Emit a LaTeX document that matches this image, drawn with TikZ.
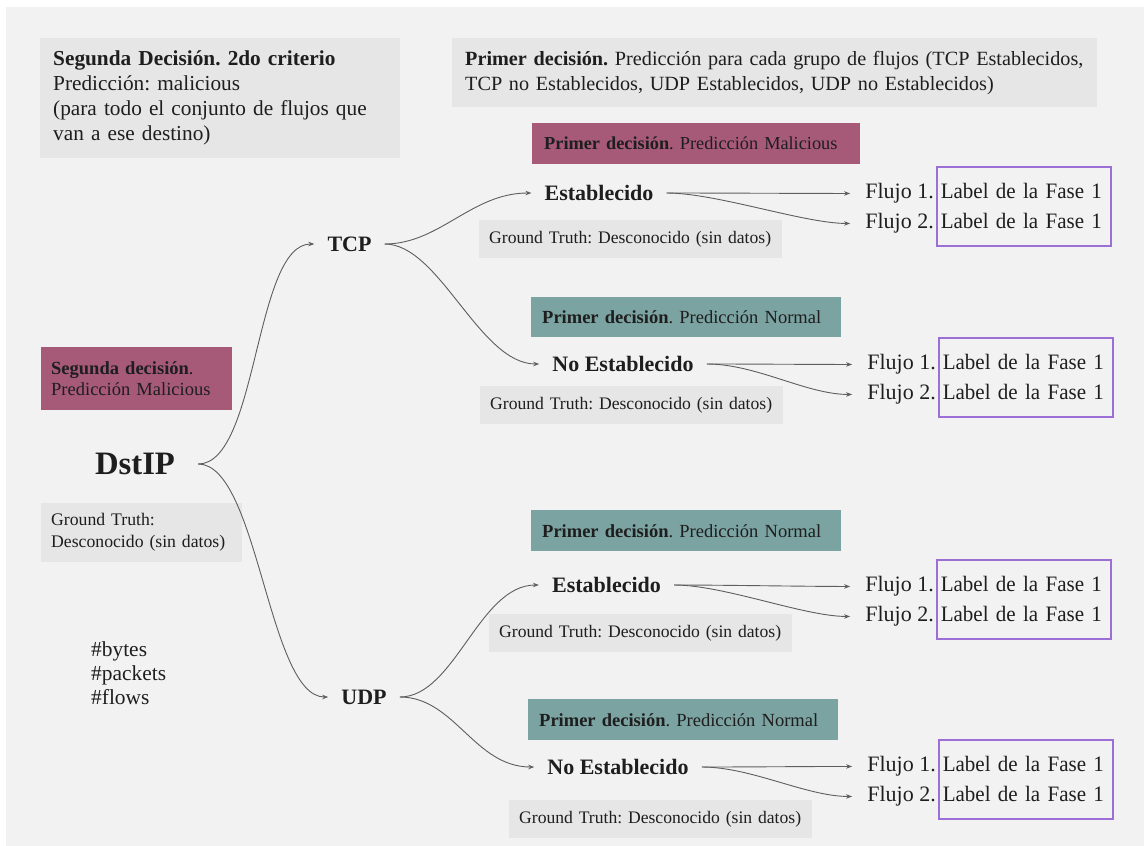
\documentclass[tikz,border=0pt]{standalone}
\usepackage{fontspec}
\setmainfont{Liberation Serif}
\newfontfamily\narrowserif{Liberation Serif}[FakeStretch=0.955]
\usetikzlibrary{arrows.meta,calc}

\definecolor{panel}{HTML}{F2F2F2}
\definecolor{note}{HTML}{E6E6E6}
\definecolor{malic}{HTML}{A65A78}
\definecolor{normal}{HTML}{7BA3A2}
\definecolor{labelframe}{HTML}{9B6FD6}
\definecolor{ink}{HTML}{1E1E1E}
\definecolor{wire}{HTML}{5E5E5E}

\newcommand{\fs}[2]{\fontsize{#1}{#2}\selectfont}
% keep a line of a note on one line
\newcommand{\oneline}[1]{\mbox{#1}}
\frenchspacing

\begin{document}
\begin{tikzpicture}[x=1pt,y=-1pt,
  every node/.style={text=ink},
  box/.style={anchor=north west, align=left, draw=none, inner ysep=0pt},
  greybox/.style={box, fill=note},
  malbox/.style={box, fill=malic},
  normbox/.style={box, fill=normal, minimum height=41, text width=288, inner xsep=11, font=\fs{18.5}{21.5}},
  truthbox/.style={greybox, minimum height=38, text width=283, inner xsep=10, font=\fs{17.6}{21}},
  framebox/.style={anchor=north west, align=left, draw=labelframe, line width=1.5pt,
    minimum height=79, text width=166, inner xsep=4, inner ysep=0pt, font=\narrowserif\fs{22}{30}},
  treenode/.style={font=\fs{22}{26}\bfseries, inner xsep=13, inner ysep=2},
  flow/.style={anchor=base east, inner sep=1, font=\fs{22}{26}},
  wire/.style={draw=wire, line width=0.9pt, -{Stealth[length=6pt,width=4.5pt]}},
  flowwire/.style={wire, shorten >=14pt}
]
% canvas and panel
\fill[white] (0,0) rectangle (1144,846);
\useasboundingbox (0,0) rectangle (1144,846);
\fill[panel] (6,7) rectangle (1144,846);

% notes at the top
\node[greybox, minimum height=120, text width=334, inner xsep=13, font=\fs{21.3}{25}] (crit2) at (40,38)
  {\oneline{\textbf{Segunda Decisión. 2do criterio}}\\\oneline{Predicción: malicious}\\\oneline{(para todo el conjunto de flujos que}\\\oneline{van a ese destino)}};
\node[greybox, minimum height=69, text width=619, inner xsep=13, font=\fs{20.2}{25}] (crit1) at (452,38)
  {\oneline{\textbf{Primer decisión.} Predicción para cada grupo de flujos (TCP Establecidos,}\\\oneline{TCP no Establecidos, UDP Establecidos, UDP no Establecidos)}};

% destination side
\node[malbox, minimum height=63, text width=171, inner xsep=10, font=\fs{18.5}{21.5}] (dstpred) at (41,347)
  {\oneline{\textbf{Segunda decisión}.}\\\oneline{Predicción Malicious}};
\node[greybox, minimum height=59, text width=181, inner xsep=10, font=\fs{17.7}{22}] (dsttruth) at (41,503)
  {\oneline{Ground Truth:}\\\oneline{Desconocido (sin datos)}};
\node[font=\fs{32.7}{36}\bfseries, inner xsep=23, inner ysep=2] (dst) at (135,464) {DstIP};
\node[anchor=west, align=left, inner sep=0, font=\fs{21.4}{24}] (counters) at (91,673)
  {\#bytes\\\#packets\\\#flows};

% protocol nodes
\node[treenode] (tcp) at (349.5,244) {TCP};
\node[treenode] (udp) at (364,697) {UDP};

% TCP established
\node[malbox, minimum height=41, text width=304, inner xsep=12, font=\fs{18.3}{21.5}] (tcpEpred) at (532,123)
  {\oneline{\textbf{Primer decisión}. Predicción Malicious}};
\node[truthbox] (tcpEtruth) at (479,220) {\oneline{Ground Truth: Desconocido (sin datos)}};
\node[treenode] (tcpE) at (599,193) {Establecido};
\node[framebox] (tcpElab) at (936,166) {\oneline{Label de la Fase 1}\\\oneline{Label de la Fase 1}};
\node[flow] (tcpEf1) at ($(tcpElab.west)+(-1,-7.5)$) {Flujo 1.};
\node[flow] (tcpEf2) at ($(tcpElab.west)+(-1,22.5)$) {Flujo 2.};

% TCP not established
\node[normbox, minimum height=40] (tcpNpred) at (531,297) {\oneline{\textbf{Primer decisión}. Predicción Normal}};
\node[truthbox] (tcpNtruth) at (480,386) {\oneline{Ground Truth: Desconocido (sin datos)}};
\node[treenode] (tcpN) at (623,364) {No Establecido};
\node[framebox] (tcpNlab) at (938,337) {\oneline{Label de la Fase 1}\\\oneline{Label de la Fase 1}};
\node[flow] (tcpNf1) at ($(tcpNlab.west)+(-1,-7.5)$) {Flujo 1.};
\node[flow] (tcpNf2) at ($(tcpNlab.west)+(-1,22.5)$) {Flujo 2.};

% UDP established
\node[normbox] (udpEpred) at (531,510) {\oneline{\textbf{Primer decisión}. Predicción Normal}};
\node[truthbox] (udpEtruth) at (489,614) {\oneline{Ground Truth: Desconocido (sin datos)}};
\node[treenode] (udpE) at (606.5,585) {Establecido};
\node[framebox] (udpElab) at (936,559) {\oneline{Label de la Fase 1}\\\oneline{Label de la Fase 1}};
\node[flow] (udpEf1) at ($(udpElab.west)+(-1,-7.5)$) {Flujo 1.};
\node[flow] (udpEf2) at ($(udpElab.west)+(-1,22.5)$) {Flujo 2.};

% UDP not established
\node[normbox] (udpNpred) at (528,699) {\oneline{\textbf{Primer decisión}. Predicción Normal}};
\node[truthbox] (udpNtruth) at (509,800) {\oneline{Ground Truth: Desconocido (sin datos)}};
\node[treenode] (udpN) at (618,767) {No Establecido};
\node[framebox] (udpNlab) at (938,739) {\oneline{Label de la Fase 1}\\\oneline{Label de la Fase 1}};
\node[flow] (udpNf1) at ($(udpNlab.west)+(-1,-7.5)$) {Flujo 1.};
\node[flow] (udpNf2) at ($(udpNlab.west)+(-1,22.5)$) {Flujo 2.};

% branches
\draw[wire] (dst.east) .. controls +(60,0) and +(-60,0) .. (tcp.west);
\draw[wire] (dst.east) .. controls +(60,0) and +(-60,0) .. (udp.west);
\draw[wire] (tcp.east) .. controls +(55,0) and +(-60,0) .. (tcpE.west);
\draw[wire] (tcp.east) .. controls +(55,0) and +(-60,0) .. (tcpN.west);
\draw[wire] (udp.east) .. controls +(55,0) and +(-60,0) .. (udpE.west);
\draw[wire] (udp.east) .. controls +(55,0) and +(-60,0) .. (udpN.west);

\foreach \g in {tcpE,tcpN,udpE,udpN}{
  \draw[flowwire] (\g.east) .. controls +(50,0) and +(-60,0) .. (\g f1.west);
  \draw[flowwire] (\g.east) .. controls +(50,0) and +(-60,0) .. (\g f2.west);
}
\end{tikzpicture}
\end{document}
